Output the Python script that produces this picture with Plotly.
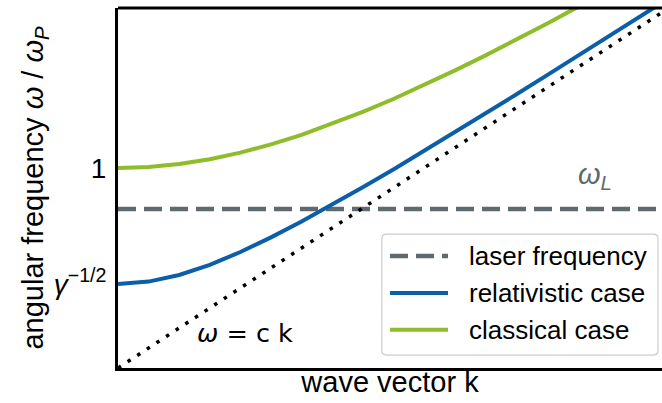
import plotly.graph_objects as go

# wave vector k (units c/omega_P)
k_vals = [0.0, 0.1, 0.2, 0.3, 0.4, 0.5, 0.6, 0.7, 0.8, 0.9, 1.0,
          1.1, 1.2, 1.3, 1.4, 1.5, 1.6, 1.7, 1.8]
# classical dispersion omega/omega_P
classical = [1.00, 1.005, 1.02, 1.044, 1.077, 1.118, 1.166, 1.221, 1.281, 1.345,
             1.414, 1.487, 1.562, 1.640, 1.720, 1.803, 1.887, 1.972, 2.059]
# relativistic dispersion omega/omega_P
relativistic = [0.42, 0.432, 0.465, 0.516, 0.580, 0.653, 0.732, 0.816, 0.904, 0.993,
                1.085, 1.177, 1.271, 1.366, 1.462, 1.558, 1.654, 1.751, 1.848]
# light line omega = c k
light_k = [0.0, 1.8]
light_w = [0.0, 1.8]
# laser frequency
laser_k = [0.0, 1.8]
laser_w = [0.795, 0.795]

tick_vals = [0.42, 1.0]
tick_text = ["<i>γ</i><sup>−1/2</sup>", "1"]

legend_names = ["laser frequency", "relativistic case", "classical case"]

GRAY = "#5f6a6e"
BLUE = "#0b5ea8"
GREEN = "#8fbc2b"
FONT = "Liberation Sans, Arial, sans-serif"
DASH = "18px,8px"

fig = go.Figure()
fig.add_trace(go.Scatter(x=laser_k, y=laser_w, mode="lines", name=legend_names[0],
                         line=dict(color=GRAY, width=4.5, dash=DASH)))
fig.add_trace(go.Scatter(x=k_vals, y=relativistic, mode="lines", name=legend_names[1],
                         line=dict(color=BLUE, width=4)))
fig.add_trace(go.Scatter(x=k_vals, y=classical, mode="lines", name=legend_names[2],
                         line=dict(color=GREEN, width=4)))
fig.add_trace(go.Scatter(x=light_k, y=light_w, mode="lines", name="ω = c k",
                         line=dict(color="black", width=3.5, dash="3.5px,8px")))

# manual legend box (paper coordinates of the plot area)
lx0, lx1, ly0, ly1 = 0.485, 0.9926, 0.036, 0.372
rx, ry = 0.009, 0.013
box_path = (f"M{lx0+rx},{ly0} L{lx1-rx},{ly0} Q{lx1},{ly0} {lx1},{ly0+ry} "
            f"L{lx1},{ly1-ry} Q{lx1},{ly1} {lx1-rx},{ly1} L{lx0+rx},{ly1} "
            f"Q{lx0},{ly1} {lx0},{ly1-ry} L{lx0},{ly0+ry} Q{lx0},{ly0} {lx0+rx},{ly0} Z")
shapes = [
    dict(type="line", xref="paper", yref="paper", x0=0, x1=1, y0=1, y1=1,
         line=dict(color="black", width=3)),
    dict(type="path", xref="paper", yref="paper", path=box_path,
         fillcolor="rgba(255,255,255,0.85)", line=dict(color="#cccccc", width=1.2)),
]
entry_y = [0.311, 0.208, 0.106]
entry_styles = [dict(color=GRAY, width=4.5, dash=DASH),
                dict(color=BLUE, width=4), dict(color=GREEN, width=4)]
annotations = []
for name, yy, st in zip(legend_names, entry_y, entry_styles):
    shapes.append(dict(type="line", xref="paper", yref="paper", x0=0.5, x1=0.6066,
                       y0=yy, y1=yy, line=st))
    annotations.append(dict(x=0.6415, y=yy, xref="paper", yref="paper", text=name,
                            showarrow=False, xanchor="left", yanchor="middle",
                            font=dict(size=26, family=FONT)))

annotations += [
    dict(x=1.56, y=0.795, xref="x", yref="y", text="<i>ω<sub>L</sub></i>",
         showarrow=False, yanchor="bottom", yshift=13,
         font=dict(size=29, color=GRAY)),
    dict(x=0.415, y=0.175, xref="x", yref="y", text="<i>ω</i> = c k",
         showarrow=False, font=dict(size=25.5, family="DejaVu Sans")),
]

fig.update_layout(
    width=662, height=403,
    margin=dict(l=118, r=0, t=8, b=35),
    showlegend=False,
    plot_bgcolor="white", paper_bgcolor="white",
    font=dict(family=FONT, color="black", size=24),
    xaxis=dict(range=[0, 1.778], showgrid=False, zeroline=False, showticklabels=False,
               ticks="", showline=True, linecolor="black", linewidth=3, automargin=False,
               title=dict(text="wave vector k", font=dict(size=29), standoff=2)),
    yaxis=dict(range=[0, 1.8], showgrid=False, zeroline=False, ticks="",
               tickvals=tick_vals, ticktext=tick_text, tickfont=dict(size=28),
               ticklabelstandoff=3, automargin=False,
               showline=True, linecolor="black", linewidth=3,
               title=dict(text="angular frequency <i>ω</i> / <i>ω<sub>P</sub></i>",
                          font=dict(size=29), standoff=2)),
    shapes=shapes,
    annotations=annotations,
)

fig.write_html("out.html", config={"displayModeBar": False},
               post_script="document.body.style.margin='0';")
